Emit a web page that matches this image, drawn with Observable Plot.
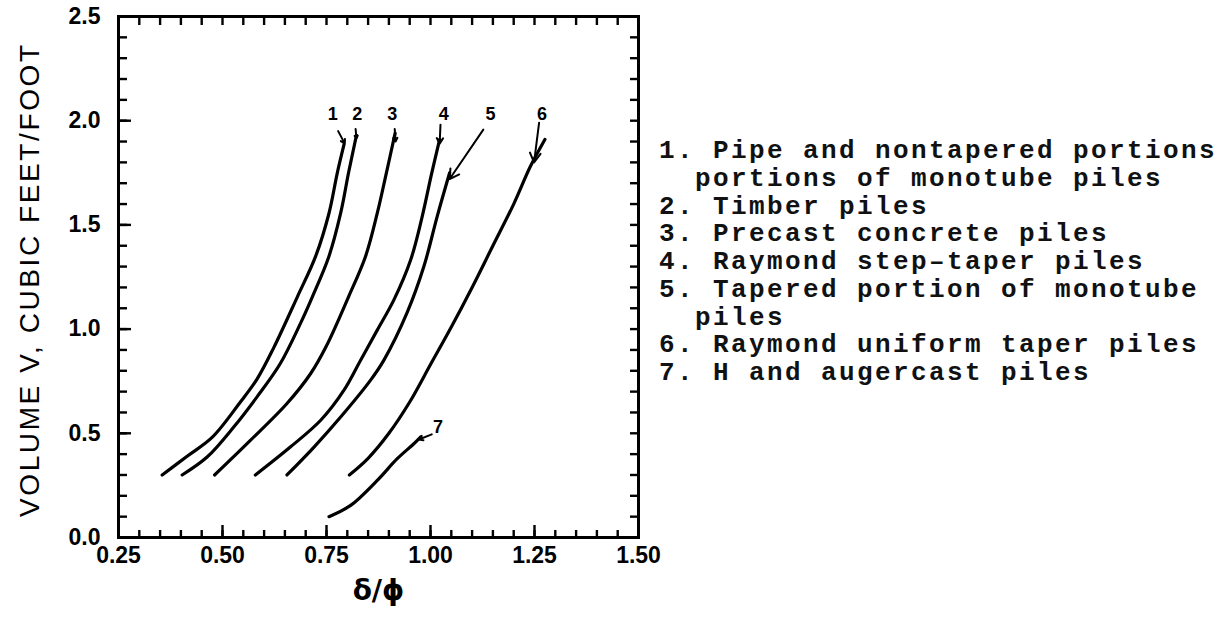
<!DOCTYPE html>
<html>
<head>
<meta charset="utf-8">
<script src="https://cdn.jsdelivr.net/npm/d3@7"></script>
<script src="https://cdn.jsdelivr.net/npm/@observablehq/plot@0.6"></script>
<style>
  html, body { margin: 0; padding: 0; background: #fff; }
  #wrap { position: relative; width: 1223px; height: 619px; overflow: hidden; background: #fff; }
  #legend { position: absolute; left: 659px; top: 138px; font-family: "Liberation Mono", monospace; font-weight: bold;
            font-size: 26px; line-height: 27.75px; color: #111; white-space: pre; letter-spacing: 2.4px; }
  #legend div { height: 27.75px; }
</style>
</head>
<body>
<div id="wrap"><div id="chart"></div><div id="legend"></div></div>
<script>
// ---- data ----
const curve1X = [0.355, 0.415, 0.475, 0.543, 0.583, 0.623, 0.680, 0.724, 0.756, 0.776, 0.792];
const curve1Y = [0.30, 0.39, 0.48, 0.65, 0.76, 0.91, 1.155, 1.35, 1.556, 1.75, 1.885];
const curve2X = [0.403, 0.463, 0.527, 0.583, 0.639, 0.688, 0.716, 0.756, 0.784, 0.803, 0.822];
const curve2Y = [0.30, 0.386, 0.53, 0.675, 0.835, 1.03, 1.155, 1.35, 1.556, 1.75, 1.93];
const curve3X = [0.481, 0.567, 0.655, 0.712, 0.750, 0.803, 0.844, 0.872, 0.894, 0.915];
const curve3Y = [0.30, 0.466, 0.643, 0.787, 0.92, 1.155, 1.35, 1.556, 1.75, 1.94];
const curve4X = [0.579, 0.663, 0.736, 0.792, 0.832, 0.872, 0.912, 0.952, 0.980, 1.002, 1.022];
const curve4Y = [0.30, 0.434, 0.5625, 0.707, 0.851, 0.995, 1.14, 1.33, 1.54, 1.74, 1.91];
const curve5X = [0.655, 0.720, 0.784, 0.856, 0.888, 0.944, 0.984, 1.016, 1.046];
const curve5Y = [0.30, 0.434, 0.578, 0.755, 0.851, 1.08, 1.30, 1.54, 1.75];
const curve6X = [0.805, 0.850, 0.900, 0.950, 1.000, 1.050, 1.100, 1.150, 1.200, 1.240, 1.275];
const curve6Y = [0.30, 0.38, 0.50, 0.65, 0.83, 1.01, 1.20, 1.40, 1.60, 1.78, 1.91];
const curve7X = [0.756, 0.808, 0.872, 0.920, 0.960, 0.976];
const curve7Y = [0.10, 0.154, 0.274, 0.378, 0.45, 0.482];

const curveIds = ["1", "2", "3", "4", "5", "6", "7"];
const curveXs = [curve1X, curve2X, curve3X, curve4X, curve5X, curve6X, curve7X];
const curveYs = [curve1Y, curve2Y, curve3Y, curve4Y, curve5Y, curve6Y, curve7Y];

// curve number labels and their leader arrows
const labelText = ["1", "2", "3", "4", "5", "6", "7"];
const labelX = [0.765, 0.824, 0.908, 1.032, 1.144, 1.268, 1.018];
const labelY = [2.03, 2.03, 2.03, 2.03, 2.03, 2.03, 0.53];
const arrowX1 = [0.778, 0.820, 0.914, 1.024, 1.127, 1.261, 1.003];
const arrowY1 = [1.95, 1.96, 1.96, 1.98, 1.957, 1.99, 0.495];
const arrowX2 = [0.794, 0.822, 0.916, 1.022, 1.046, 1.249, 0.972];
const arrowY2 = [1.89, 1.915, 1.90, 1.89, 1.72, 1.80, 0.47];

// axes
const xTicks = [0.25, 0.50, 0.75, 1.00, 1.25, 1.50];
const xTickLabels = ["0.25", "0.50", "0.75", "1.00", "1.25", "1.50"];
const yTicks = [0.0, 0.5, 1.0, 1.5, 2.0, 2.5];
const yTickLabels = ["0.0", "0.5", "1.0", "1.5", "2.0", "2.5"];
const xMinorTicks = [0.25, 0.30, 0.35, 0.40, 0.45, 0.50, 0.55, 0.60, 0.65, 0.70, 0.75, 0.80, 0.85, 0.90, 0.95,
                     1.00, 1.05, 1.10, 1.15, 1.20, 1.25, 1.30, 1.35, 1.40, 1.45, 1.50];
const yMinorTicks = [0.0, 0.1, 0.2, 0.3, 0.4, 0.5, 0.6, 0.7, 0.8, 0.9, 1.0, 1.1, 1.2, 1.3, 1.4, 1.5, 1.6, 1.7,
                     1.8, 1.9, 2.0, 2.1, 2.2, 2.3, 2.4, 2.5];
const yAxisLabel = "VOLUME V, CUBIC FEET/FOOT";
const xAxisLabel = "δ/ϕ";

// legend
const legendNumbers = ["1.", "", "2.", "3.", "4.", "5.", "", "6.", "7."];
const legendLines = ["Pipe and nontapered portions", "portions of monotube piles", "Timber piles",
  "Precast concrete piles", "Raymond step–taper piles", "Tapered portion of monotube", "piles",
  "Raymond uniform taper piles", "H and augercast piles"];

// ---- build tables ----
const points = [];
curveIds.forEach((id, k) => curveXs[k].forEach((x, i) => points.push({id, x, y: curveYs[k][i]})));
const labels = labelText.map((t, i) => ({t, x: labelX[i], y: labelY[i]}));
const arrows = arrowX1.map((x1, i) => ({x1, y1: arrowY1[i], x2: arrowX2[i], y2: arrowY2[i]}));

const tickStyle = {fill: "none", stroke: "#000", strokeWidth: 2.4, label: null};

const chart = Plot.plot({
  width: 1223,
  height: 619,
  marginLeft: 118,
  marginRight: 585,
  marginTop: 16,
  marginBottom: 82,
  style: {fontFamily: "Liberation Sans, Arial, sans-serif", color: "#000", background: "#fff"},
  x: {domain: [0.25, 1.5]},
  y: {domain: [0, 2.5]},
  marks: [
    Plot.axisX(xMinorTicks, {anchor: "bottom", tickSize: 7, dy: -7, ...tickStyle}),
    Plot.axisX(xTicks, {anchor: "bottom", tickSize: 12, dy: -12, ...tickStyle}),
    Plot.axisX(xMinorTicks, {anchor: "top", tickSize: 8, dy: 8, ...tickStyle}),
    Plot.axisY(yMinorTicks, {anchor: "left", tickSize: 9, dx: 9, ...tickStyle}),
    Plot.axisY(yTicks, {anchor: "left", tickSize: 13, dx: 13, ...tickStyle}),
    Plot.axisY(yMinorTicks, {anchor: "right", tickSize: 9, dx: -9, ...tickStyle}),
    Plot.axisX(xTicks, {anchor: "bottom", tickSize: 0, tickPadding: 9, label: null,
      tickFormat: d => xTickLabels[xTicks.indexOf(d)], fontSize: 23, fontWeight: "bold"}),
    Plot.axisY(yTicks, {anchor: "left", tickSize: 0, tickPadding: 18, label: null,
      tickFormat: d => yTickLabels[yTicks.indexOf(d)], fontSize: 23, fontWeight: "bold"}),
    Plot.frame({stroke: "#000", strokeWidth: 3}),
    Plot.line(points, {x: "x", y: "y", z: "id", curve: "catmull-rom", stroke: "#000", strokeWidth: 3.2}),
    Plot.arrow(arrows, {x1: "x1", y1: "y1", x2: "x2", y2: "y2", stroke: "#000", strokeWidth: 2, headLength: 8}),
    Plot.text(labels, {x: "x", y: "y", text: "t", fontSize: 18, fontWeight: "bold", fill: "#000"}),
    Plot.text([yAxisLabel], {frameAnchor: "left", dx: -88, rotate: -90, textAnchor: "middle", dy: 4,
      text: d => d, fontSize: 28, fill: "#000"}),
    Plot.text([xAxisLabel], {frameAnchor: "bottom", dy: 62, text: d => d, fontSize: 28, fontWeight: "bold",
      fontFamily: "DejaVu Sans", fill: "#000"})
  ]
});
document.getElementById("chart").appendChild(chart);
d3.select(chart).selectAll("text")
  .filter(function() { return this.textContent === yAxisLabel; })
  .attr("textLength", 472).attr("lengthAdjust", "spacing");

const legend = d3.select("#legend");
legendLines.forEach((line, i) => {
  legend.append("div").text((legendNumbers[i] ? legendNumbers[i] + " " : "  ") + line);
});
</script>
</body>
</html>
